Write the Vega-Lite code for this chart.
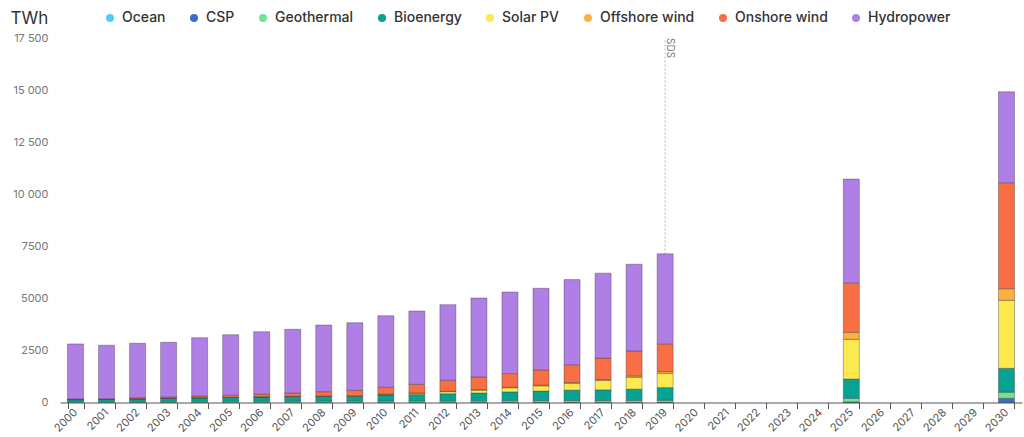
{
  "$schema": "https://vega.github.io/schema/vega-lite/v6.json",
  "width": 962,
  "height": 364.5,
  "autosize": {"type": "none"},
  "padding": {"left": 60, "top": 38, "right": 2, "bottom": 34.5},
  "background": "white",
  "config": {"font": "Inter", "view": {"stroke": null}},
  "datasets": {
    "gen": [
      {"year": "2000", "Ocean": 0.5, "CSP": 0.5, "Geothermal": 50, "Bioenergy": 90, "Solar PV": 1, "Offshore wind": 0, "Onshore wind": 30, "Hydropower": 2640},
      {"year": "2001", "Ocean": 0.5, "CSP": 0.5, "Geothermal": 50, "Bioenergy": 95, "Solar PV": 1, "Offshore wind": 0, "Onshore wind": 38, "Hydropower": 2565},
      {"year": "2002", "Ocean": 0.5, "CSP": 0.5, "Geothermal": 52, "Bioenergy": 125, "Solar PV": 2, "Offshore wind": 0.5, "Onshore wind": 52, "Hydropower": 2610},
      {"year": "2003", "Ocean": 0.5, "CSP": 0.5, "Geothermal": 54, "Bioenergy": 145, "Solar PV": 2, "Offshore wind": 1, "Onshore wind": 62, "Hydropower": 2626},
      {"year": "2004", "Ocean": 0.5, "CSP": 0.5, "Geothermal": 56, "Bioenergy": 170, "Solar PV": 3, "Offshore wind": 1, "Onshore wind": 84, "Hydropower": 2796},
      {"year": "2005", "Ocean": 0.5, "CSP": 0.5, "Geothermal": 57, "Bioenergy": 185, "Solar PV": 4, "Offshore wind": 2, "Onshore wind": 102, "Hydropower": 2903},
      {"year": "2006", "Ocean": 0.5, "CSP": 0.5, "Geothermal": 59, "Bioenergy": 208, "Solar PV": 5, "Offshore wind": 3, "Onshore wind": 128, "Hydropower": 2995},
      {"year": "2007", "Ocean": 0.5, "CSP": 0.5, "Geothermal": 61, "Bioenergy": 222, "Solar PV": 7, "Offshore wind": 4, "Onshore wind": 161, "Hydropower": 3058},
      {"year": "2008", "Ocean": 0.5, "CSP": 1, "Geothermal": 63, "Bioenergy": 228, "Solar PV": 12, "Offshore wind": 5, "Onshore wind": 210, "Hydropower": 3202},
      {"year": "2009", "Ocean": 0.5, "CSP": 1, "Geothermal": 65, "Bioenergy": 230, "Solar PV": 20, "Offshore wind": 7, "Onshore wind": 262, "Hydropower": 3244},
      {"year": "2010", "Ocean": 0.5, "CSP": 2, "Geothermal": 68, "Bioenergy": 290, "Solar PV": 32, "Offshore wind": 8, "Onshore wind": 330, "Hydropower": 3436},
      {"year": "2011", "Ocean": 0.5, "CSP": 3, "Geothermal": 69, "Bioenergy": 310, "Solar PV": 65, "Offshore wind": 12, "Onshore wind": 414, "Hydropower": 3518},
      {"year": "2012", "Ocean": 0.5, "CSP": 5, "Geothermal": 70, "Bioenergy": 345, "Solar PV": 100, "Offshore wind": 17, "Onshore wind": 530, "Hydropower": 3628},
      {"year": "2013", "Ocean": 0.5, "CSP": 8, "Geothermal": 72, "Bioenergy": 375, "Solar PV": 135, "Offshore wind": 25, "Onshore wind": 610, "Hydropower": 3792},
      {"year": "2014", "Ocean": 0.5, "CSP": 9, "Geothermal": 77, "Bioenergy": 425, "Solar PV": 195, "Offshore wind": 25, "Onshore wind": 655, "Hydropower": 3918},
      {"year": "2015", "Ocean": 0.5, "CSP": 10, "Geothermal": 80, "Bioenergy": 460, "Solar PV": 250, "Offshore wind": 30, "Onshore wind": 730, "Hydropower": 3922},
      {"year": "2016", "Ocean": 1, "CSP": 11, "Geothermal": 82, "Bioenergy": 500, "Solar PV": 330, "Offshore wind": 32, "Onshore wind": 860, "Hydropower": 4084},
      {"year": "2017", "Ocean": 1, "CSP": 11, "Geothermal": 85, "Bioenergy": 510, "Solar PV": 450, "Offshore wind": 45, "Onshore wind": 1030, "Hydropower": 4078},
      {"year": "2018", "Ocean": 1, "CSP": 12, "Geothermal": 88, "Bioenergy": 540, "Solar PV": 570, "Offshore wind": 65, "Onshore wind": 1200, "Hydropower": 4162},
      {"year": "2019", "Ocean": 1, "CSP": 13, "Geothermal": 92, "Bioenergy": 610, "Solar PV": 685, "Offshore wind": 85, "Onshore wind": 1330, "Hydropower": 4320},
      {"year": "2025", "Ocean": 5, "CSP": 25, "Geothermal": 170, "Bioenergy": 926, "Solar PV": 1906, "Offshore wind": 336, "Onshore wind": 2380, "Hydropower": 4978},
      {"year": "2030", "Ocean": 12, "CSP": 190, "Geothermal": 290, "Bioenergy": 1150, "Solar PV": 3264, "Offshore wind": 556, "Onshore wind": 5088, "Hydropower": 4368}
    ],
    "marker": [{"year": "2019", "label": "SDS"}]
  },
  "layer": [
    {
      "data": {"name": "marker"},
      "mark": {"type": "rule", "color": "#b5b5b5", "strokeDash": [2, 2], "strokeWidth": 1},
      "encoding": {
        "x": {"field": "year", "type": "ordinal"},
        "y": {"datum": 0, "type": "quantitative"},
        "y2": {"datum": 17500}
      }
    },
    {
      "data": {"name": "marker"},
      "mark": {"type": "text", "angle": 90, "align": "left", "baseline": "bottom", "dx": 0, "fontSize": 10, "color": "#777"},
      "encoding": {
        "x": {"field": "year", "type": "ordinal"},
        "y": {"datum": 17500, "type": "quantitative"},
        "text": {"field": "label"}
      }
    },
    {
      "data": {"name": "gen"},
      "transform": [
        {"fold": ["Ocean", "CSP", "Geothermal", "Bioenergy", "Solar PV", "Offshore wind", "Onshore wind", "Hydropower"], "as": ["source", "twh"]},
        {"calculate": "indexof(['Ocean', 'CSP', 'Geothermal', 'Bioenergy', 'Solar PV', 'Offshore wind', 'Onshore wind', 'Hydropower'], datum.source)", "as": "stackorder"}
      ],
      "mark": {"type": "bar", "stroke": "#3a3a3a", "strokeWidth": 0.7, "strokeOpacity": 0.55},
      "encoding": {
        "x": {
          "field": "year",
          "type": "ordinal",
          "scale": {
            "domain": ["2000","2001","2002","2003","2004","2005","2006","2007","2008","2009","2010","2011","2012","2013","2014","2015","2016","2017","2018","2019","2020","2021","2022","2023","2024","2025","2026","2027","2028","2029","2030"],
            "paddingInner": 0.484,
            "paddingOuter": 0.242
          },
          "axis": {
            "title": null,
            "labelAngle": -45,
            "tickBand": "extent",
            "domainColor": "#555",
            "domainWidth": 1.2,
            "tickColor": "#555",
            "tickSize": 6,
            "labelColor": "#555",
            "labelFontSize": 11,
            "labelPadding": 2,
            "grid": false
          }
        },
        "y": {
          "field": "twh",
          "type": "quantitative",
          "stack": "zero",
          "scale": {"domain": [0, 17500], "nice": false},
          "axis": {
            "values": [0, 2500, 5000, 7500, 10000, 12500, 15000, 17500],
            "labelExpr": "datum.value >= 10000 ? replace(format(datum.value, ','), ',', ' ') : format(datum.value, 'd')",
            "domain": false,
            "ticks": false,
            "gridColor": "#e6e6e6",
            "labelColor": "#777",
            "labelFontSize": 11,
            "labelPadding": 12,
            "title": "TWh",
            "titleAngle": 0,
            "titleX": -50,
            "titleY": -19.5,
            "titleAlign": "left",
            "titleBaseline": "middle",
            "titleFontSize": 17,
            "titleFontWeight": "normal",
            "titleColor": "#333"
          }
        },
        "order": {"field": "stackorder", "type": "quantitative", "sort": "ascending"},
        "color": {
          "field": "source",
          "type": "nominal",
          "sort": ["Ocean", "CSP", "Geothermal", "Bioenergy", "Solar PV", "Offshore wind", "Onshore wind", "Hydropower"],
          "scale": {
            "domain": ["Ocean", "CSP", "Geothermal", "Bioenergy", "Solar PV", "Offshore wind", "Onshore wind", "Hydropower"],
            "range": ["#4fcdf5", "#3e6bcf", "#72e38f", "#06a394", "#fbe94f", "#fcb040", "#f86f46", "#b07fe6"]
          },
          "legend": {
            "orient": "none",
            "direction": "horizontal",
            "legendX": 43,
            "legendY": -27,
            "title": null,
            "symbolType": "circle",
            "symbolSize": 64,
            "symbolStrokeWidth": 0,
            "labelFontSize": 14,
            "labelColor": "#333",
            "labelFont": "Inter",
            "labelFontWeight": 500,
            "columnPadding": 21,
            "labelOffset": 5,
            "padding": 0
          }
        }
      }
    }
  ]
}
